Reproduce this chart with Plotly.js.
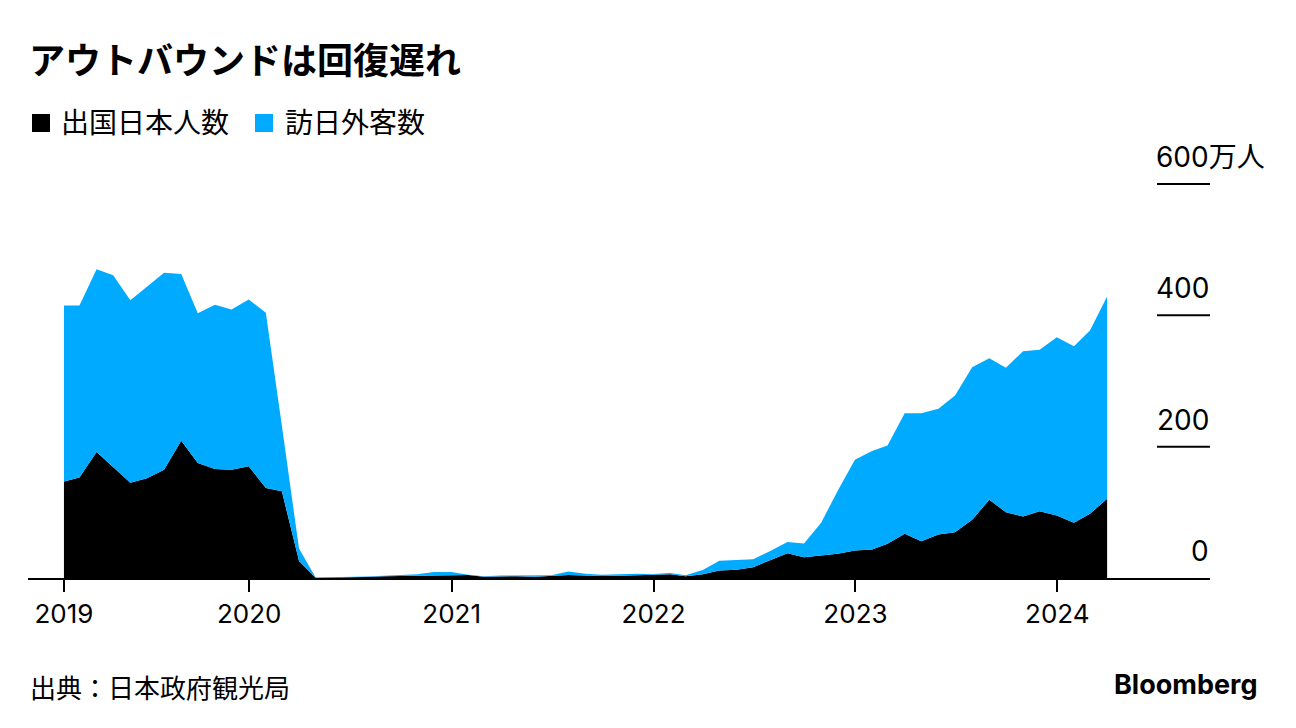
<!DOCTYPE html>
<html>
<head>
<meta charset="utf-8">
<script src="https://cdn.plot.ly/plotly-3.0.1.min.js"></script>
<style>
html,body{margin:0;padding:0;background:#fff;}
#chart{width:1296px;height:728px;}
</style>
</head>
<body>
<div id="chart"></div>
<script>
// ---- data (万人) ----
const months = [
  '2019-01','2019-02','2019-03','2019-04','2019-05','2019-06','2019-07','2019-08','2019-09','2019-10','2019-11','2019-12',
  '2020-01','2020-02','2020-03','2020-04','2020-05','2020-06','2020-07','2020-08','2020-09','2020-10','2020-11','2020-12',
  '2021-01','2021-02','2021-03','2021-04','2021-05','2021-06','2021-07','2021-08','2021-09','2021-10','2021-11','2021-12',
  '2022-01','2022-02','2022-03','2022-04','2022-05','2022-06','2022-07','2022-08','2022-09','2022-10','2022-11','2022-12',
  '2023-01','2023-02','2023-03','2023-04','2023-05','2023-06','2023-07','2023-08','2023-09','2023-10','2023-11','2023-12',
  '2024-01','2024-02','2024-03'
];
const outbound = [ // 出国日本人数
  147, 153, 192, 169, 145, 152, 165, 209, 175, 166, 165, 170,
  137, 132, 26, 0.4, 0.6, 0.9, 1.7, 2.7, 2.9, 3.1, 3.3, 3.2,
  4.5, 2.0, 2.6, 2.8, 2.0, 3.2, 4.7, 3.9, 3.0, 3.5, 4.4, 5.0,
  5.8, 2.5, 5.6, 11.4, 12.5, 16.4, 26.6, 37.8, 31.7, 34.3, 36.9, 41.9,
  43.4, 52, 67.3, 56, 66.2, 69.7, 88.6, 119, 100.2, 93.6, 101.7, 95,
  84, 97.8, 120.6
];
const inbound = [ // 訪日外客数
  268, 262, 278, 292, 278, 291, 300, 254, 228, 250, 244, 254,
  267, 100, 19, 0.3, 0.2, 0.3, 0.4, 0.9, 1.4, 2.7, 5.7, 5.9,
  0.5, 0.7, 1.2, 1.1, 1.0, 1.0, 5.1, 2.6, 1.8, 2.2, 2.1, 1.2,
  1.8, 1.7, 6.6, 15, 14.5, 12.0, 14.4, 17.0, 20.7, 49.9, 96, 138,
  150, 149.8, 183.7, 195, 191.4, 208.3, 232.4, 215.7, 219.8, 251.8, 245.8, 271.7,
  269, 279, 308
];
const seriesNames = ['出国日本人数', '訪日外客数'];
const yearLabels = ['2019', '2020', '2021', '2022', '2023', '2024'];
const yTickVals = [0, 200, 400, 600];
const yTickText = ['0', '200', '400', '600万人'];
const titleText = 'アウトバウンドは回復遅れ';
const sourceText = '出典：日本政府観光局';

// ---- styling ----
const BLACK = '#000000';
const BLUE = '#00aaff';
const LATIN = 'Inter, "Noto Sans CJK JP", sans-serif';
const CJK = '"Noto Sans CJK JP", Inter, sans-serif';

// monthly values are dated at month end
function monthEnd(m) {
  const [y, mo] = m.split('-').map(Number);
  const d = new Date(Date.UTC(y, mo, 0));
  return d.toISOString().slice(0, 10);
}
const xDates = months.map(monthEnd);
const tickVals = yearLabels.map((y, i) => i === 0 ? xDates[0] : y + '-01-01');

const W = 1296, H = 728;
const M = {l: 28, r: 86, t: 182, b: 150};
const PW = W - M.l - M.r, PH = H - M.t - M.b;
const px = x => (x - M.l) / PW;
const py = y => (H - M.b - y) / PH;

const traces = [
  {x: xDates, y: outbound, name: seriesNames[0], type: 'scatter', mode: 'lines',
   stackgroup: 'one', line: {width: 0, color: BLACK}, fillcolor: BLACK, showlegend: false},
  {x: xDates, y: inbound, name: seriesNames[1], type: 'scatter', mode: 'lines',
   stackgroup: 'one', line: {width: 0, color: BLUE}, fillcolor: BLUE, showlegend: false}
];

const annotations = [];
const shapes = [];
yTickVals.forEach((v, i) => {
  const isTop = i === yTickVals.length - 1;
  annotations.push({
    xref: 'paper', yref: 'y', x: 1, y: v, xanchor: 'right', yanchor: 'bottom',
    xshift: isTop ? 57 : 1, yshift: 8,
    text: yTickText[i], showarrow: false,
    font: {family: LATIN, size: 28, color: '#000'}
  });
  if (v > 0) {
    shapes.push({type: 'line', xref: 'paper', yref: 'y', x0: px(1157), x1: 1, y0: v, y1: v,
      line: {color: '#000', width: 2}, layer: 'above'});
  }
});
// legend
annotations.push({xref: 'paper', yref: 'paper', x: px(59), y: py(121), xanchor: 'left', yanchor: 'middle',
  text: seriesNames[0], showarrow: false, font: {family: CJK, size: 28, color: '#000'}});
annotations.push({xref: 'paper', yref: 'paper', x: px(283), y: py(121), xanchor: 'left', yanchor: 'middle',
  text: seriesNames[1], showarrow: false, font: {family: CJK, size: 28, color: '#000'}});
// source and logo
annotations.push({xref: 'paper', yref: 'paper', x: px(28), y: py(686), xanchor: 'left', yanchor: 'middle',
  text: sourceText, showarrow: false, font: {family: CJK, size: 26, color: '#000'}});
annotations.push({xref: 'paper', yref: 'paper', x: px(1259), y: py(684), xanchor: 'right', yanchor: 'middle',
  text: '<b>Bloomberg</b>', showarrow: false, font: {family: LATIN, size: 27, color: '#000'}});

shapes.push(
  {type: 'rect', xref: 'paper', yref: 'paper', x0: px(32), x1: px(50), y0: py(132), y1: py(114),
   fillcolor: BLACK, line: {width: 0}},
  {type: 'rect', xref: 'paper', yref: 'paper', x0: px(255), x1: px(273), y0: py(132), y1: py(114),
   fillcolor: BLUE, line: {width: 0}}
);

const layout = {
  width: W, height: H,
  margin: {l: M.l, r: M.r, t: M.t, b: M.b, pad: 0},
  paper_bgcolor: '#fff', plot_bgcolor: '#fff',
  font: {family: LATIN, color: '#000'},
  title: {
    text: '<b>' + titleText + '</b>',
    xref: 'container', yref: 'container', x: 29 / W, xanchor: 'left',
    y: 1 - 61 / H, yanchor: 'middle',
    font: {family: CJK, size: 36, color: '#000', weight: 700}
  },
  xaxis: {
    type: 'date',
    range: ['2018-11-27', '2024-10-03'],
    tickvals: tickVals, ticktext: yearLabels,
    ticks: 'outside', ticklen: 12, tickwidth: 2, tickcolor: '#000',
    showline: true, linewidth: 2, linecolor: '#000',
    showgrid: false, zeroline: false,
    tickfont: {family: LATIN, size: 26, color: '#000'},
    fixedrange: true
  },
  yaxis: {
    range: [0, 603],
    side: 'right',
    ticks: '',
    showticklabels: false,
    showline: false, showgrid: false, zeroline: false,
    fixedrange: true
  },
  annotations: annotations,
  shapes: shapes,
  showlegend: false
};

Plotly.newPlot('chart', traces, layout, {staticPlot: true, displayModeBar: false});
</script>
</body>
</html>
